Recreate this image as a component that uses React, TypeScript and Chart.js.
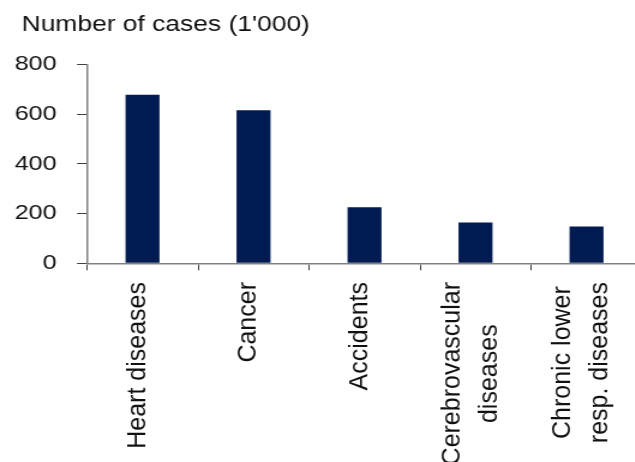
import React, { useEffect, useRef } from 'react';
import { Chart, registerables } from 'chart.js';

Chart.register(...registerables);

const categories: string[][] = [
  ['Heart diseases'],
  ['Cancer'],
  ['Accidents'],
  ['Cerebrovascular', 'diseases'],
  ['Chronic lower', 'resp. diseases'],
];
const caseValues: number[] = [678, 615, 225, 164, 148];
const yMin = 0;
const yMax = 800;
const yStep = 200;
const titleText = "Number of cases (1'000)";

const FONT = "'Liberation Sans', Arial, sans-serif";
const STRETCH = 1.2;

const titlePlugin = {
  id: 'leftTitle',
  afterDraw(chart: any) {
    const ctx = chart.ctx as CanvasRenderingContext2D;
    ctx.save();
    ctx.font = `22px ${FONT}`;
    ctx.fillStyle = '#111111';
    ctx.textAlign = 'left';
    ctx.textBaseline = 'middle';
    ctx.fillText(titleText, 18, 24.5);
    ctx.restore();
  },
};

const categoryLabelPlugin = {
  id: 'categoryLabels',
  afterDraw(chart: any) {
    const scale = chart.scales.x;
    const ctx = chart.ctx as CanvasRenderingContext2D;
    ctx.save();
    ctx.font = `25px ${FONT}`;
    ctx.fillStyle = '#111111';
    ctx.textAlign = 'center';
    ctx.textBaseline = 'middle';
    const top = scale.top + 18.7;
    categories.forEach((lines, i) => {
      const x = scale.getPixelForTick(i) - 4;
      const w = Math.max(...lines.map((l) => ctx.measureText(l).width));
      lines.forEach((line, j) => {
        const dx = (j - (lines.length - 1) / 2) * 31;
        ctx.save();
        ctx.translate(x + dx, top + w / 2);
        ctx.rotate(-Math.PI / 2);
        ctx.scale(1, 0.89);
        ctx.fillText(line, 0, 0);
        ctx.restore();
      });
    });
    ctx.restore();
  },
};

export default function App() {
  const canvasRef = useRef<HTMLCanvasElement | null>(null);

  useEffect(() => {
    if (!canvasRef.current) return;
    const chart = new Chart(canvasRef.current, {
      type: 'bar',
      data: {
        labels: categories.map((c) => c.join(' ')),
        datasets: [
          {
            data: caseValues,
            backgroundColor: '#001a52',
            borderWidth: 0,
            barPercentage: 0.306,
            categoryPercentage: 1,
          },
        ],
      },
      options: {
        responsive: false,
        animation: false,
        devicePixelRatio: 1,
        layout: { padding: { left: 0, right: 25, top: 64.3, bottom: 0 } },
        plugins: {
          legend: { display: false },
          tooltip: { enabled: false },
          title: { display: false },
        },
        scales: {
          x: {
            type: 'category',
            offset: true,
            grid: {
              display: true,
              drawOnChartArea: false,
              drawTicks: true,
              tickLength: 7,
              offset: true,
              tickColor: '#404040',
              tickWidth: 1,
            },
            border: { display: true, color: '#808080', width: 1.5 },
            ticks: { display: false },
            afterFit: (scale: any) => {
              scale.height = 198.7;
            },
          },
          y: {
            min: yMin,
            max: yMax,
            grid: {
              display: true,
              drawOnChartArea: false,
              drawTicks: true,
              tickLength: 8.3,
              tickColor: '#404040',
              tickWidth: 1,
            },
            border: { display: true, color: '#808080', width: 1.5 },
            ticks: {
              stepSize: yStep,
              padding: 17,
              color: '#111111',
              font: { family: FONT, size: 21 },
            },
            afterFit: (scale: any) => {
              scale.width = 72.5;
            },
          },
        },
      },
      plugins: [titlePlugin, categoryLabelPlugin],
    });
    return () => chart.destroy();
  }, []);

  return (
    <div
      style={{
        position: 'fixed',
        left: 0,
        top: 0,
        width: 635,
        height: 462,
        overflow: 'hidden',
        background: '#ffffff',
      }}
    >
      <div
        style={{
          width: 560,
          height: 462,
          transform: `scaleX(${STRETCH})`,
          transformOrigin: '0 0',
        }}
      >
        <canvas ref={canvasRef} width={560} height={462} style={{ display: 'block' }} />
      </div>
    </div>
  );
}
